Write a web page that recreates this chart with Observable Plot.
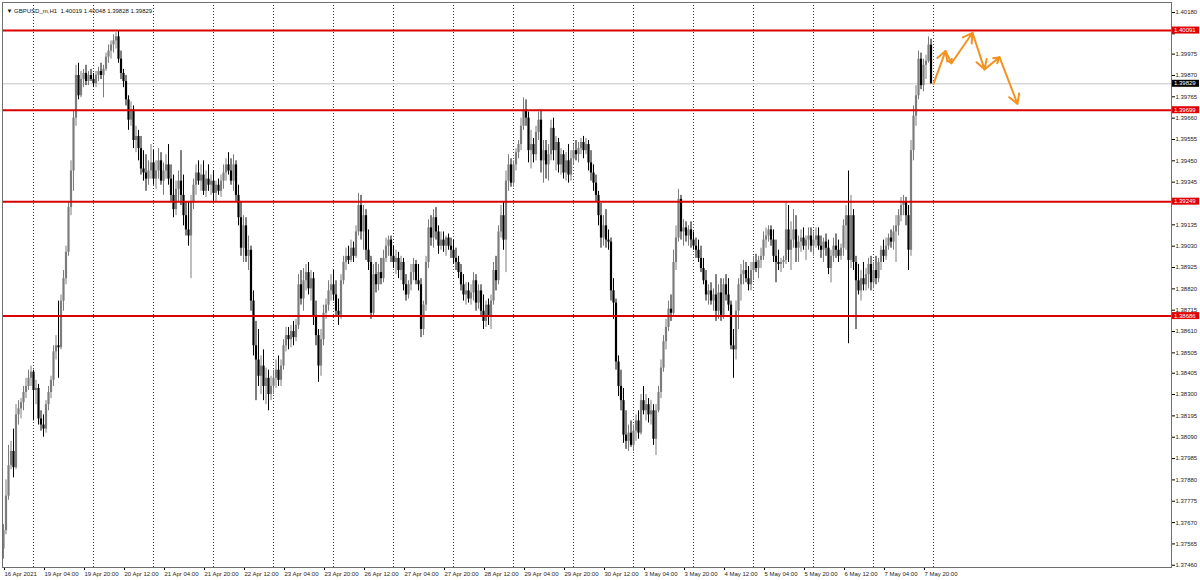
<!DOCTYPE html>
<html><head><meta charset="utf-8">
<script src="https://cdn.jsdelivr.net/npm/d3@7"></script>
<script src="https://cdn.jsdelivr.net/npm/@observablehq/plot@0.6"></script>
<style>
html,body{margin:0;padding:0;background:#fff;}
svg{display:block}
</style></head><body><div id="chart"></div>
<script>
// GBPUSD_m, H1 — bar 0 = 16 Apr 2021 12:00, one bar per hour of trading
const open = [
1.3754,1.3763,1.3780,1.3795,1.3802,1.3794,1.3820,1.3823,1.3826,1.3831,1.3834,1.3838,
1.3841,1.3832,1.3833,1.3818,1.3815,1.3813,1.3825,1.3831,1.3837,1.3851,1.3854,1.3853,1.3876,1.3887,1.3900,1.3922,1.3940,1.3966,1.3987,1.3977,1.3985,1.3988,1.3984,1.3987,
1.3985,1.3983,1.3987,1.3989,1.3987,1.3990,1.3996,1.3999,1.4002,1.4004,1.4006,1.3995,1.3988,1.3984,1.3975,1.3965,1.3970,1.3955,1.3957,1.3951,1.3941,1.3939,1.3936,1.3940,
1.3944,1.3936,1.3940,1.3945,1.3935,1.3940,1.3943,1.3936,1.3928,1.3921,1.3931,1.3935,1.3928,1.3918,1.3911,1.3908,1.3925,1.3933,1.3939,1.3935,1.3938,1.3930,1.3936,1.3933,
1.3935,1.3929,1.3933,1.3930,1.3935,1.3939,1.3943,1.3940,1.3935,1.3943,1.3928,1.3917,1.3902,1.3913,1.3898,1.3901,1.3876,1.3854,1.3847,1.3839,1.3844,1.3834,1.3838,1.3830,
1.3834,1.3838,1.3842,1.3837,1.3844,1.3854,1.3859,1.3857,1.3861,1.3858,1.3864,1.3884,1.3877,1.3886,1.3890,1.3882,1.3887,1.3868,1.3859,1.3844,1.3857,1.3870,1.3874,1.3881,
1.3884,1.3879,1.3871,1.3869,1.3886,1.3895,1.3898,1.3896,1.3902,1.3898,1.3910,1.3923,1.3910,1.3918,1.3901,1.3895,1.3870,1.3889,1.3884,1.3890,1.3887,1.3897,1.3903,1.3906,
1.3898,1.3895,1.3897,1.3891,1.3895,1.3884,1.3879,1.3884,1.3890,1.3894,1.3886,1.3884,1.3862,1.3874,1.3895,1.3912,1.3907,1.3917,1.3910,1.3903,1.3906,1.3903,1.3907,1.3903,
1.3901,1.3897,1.3895,1.3890,1.3884,1.3879,1.3881,1.3877,1.3880,1.3886,1.3875,1.3881,1.3871,1.3866,1.3874,1.3868,1.3876,1.3891,1.3886,1.3910,1.3918,1.3906,1.3935,1.3943,
1.3934,1.3943,1.3949,1.3953,1.3962,1.3970,1.3966,1.3950,1.3953,1.3948,1.3959,1.3965,1.3945,1.3950,1.3943,1.3948,1.3961,1.3950,1.3954,1.3943,1.3948,1.3939,1.3945,1.3938,
1.3946,1.3950,1.3948,1.3951,1.3954,1.3950,1.3953,1.3944,1.3939,1.3934,1.3928,1.3918,1.3907,1.3913,1.3906,1.3905,1.3881,1.3875,1.3846,1.3834,1.3827,1.3810,1.3807,1.3811,
1.3805,1.3812,1.3817,1.3811,1.3827,1.3822,1.3825,1.3820,1.3822,1.3808,1.3822,1.3831,1.3843,1.3856,1.3863,1.3872,1.3870,1.3895,1.3907,1.3926,1.3910,1.3912,1.3908,1.3911,
1.3906,1.3903,1.3901,1.3897,1.3892,1.3886,1.3879,1.3881,1.3876,1.3879,1.3871,1.3880,1.3869,1.3884,1.3879,1.3874,1.3854,1.3852,1.3871,1.3884,1.3889,1.3891,1.3887,1.3884,
1.3891,1.3895,1.3892,1.3896,1.3898,1.3906,1.3908,1.3911,1.3906,1.3898,1.3895,1.3894,1.3895,1.3896,1.3911,1.3901,1.3906,1.3911,1.3902,1.3905,1.3907,1.3903,1.3906,1.3908,
1.3903,1.3906,1.3908,1.3903,1.3901,1.3905,1.3902,1.3892,1.3898,1.3903,1.3901,1.3898,1.3902,1.3913,1.3918,1.3896,1.3918,1.3895,1.3886,1.3881,1.3887,1.3884,1.3889,1.3894,
1.3885,1.3891,1.3887,1.3895,1.3901,1.3898,1.3903,1.3907,1.3905,1.3910,1.3913,1.3918,1.3923,1.3925,1.3918,1.3901,1.3950,1.3967,1.3977,1.3995,1.3982,1.3992,1.3994,1.40019
];
const high = [
1.3766,1.3788,1.3805,1.3807,1.3813,1.3825,1.3827,1.3828,1.3834,1.3838,1.3842,1.3844,
1.3842,1.3837,1.3835,1.3822,1.3820,1.3827,1.3834,1.3839,1.3854,1.3859,1.3876,1.3879,1.3891,1.3903,1.3925,1.3945,1.3970,1.3992,1.3993,1.3989,1.3990,1.3992,1.3989,1.3990,
1.3988,1.3989,1.3991,1.3993,1.3992,1.3998,1.4002,1.4004,1.4007,1.4008,1.4009,1.3999,1.3990,1.3987,1.3977,1.3974,1.3972,1.3962,1.3960,1.3957,1.3950,1.3948,1.3945,1.3953,
1.3950,1.3945,1.3951,1.3949,1.3944,1.3948,1.3953,1.3943,1.3938,1.3935,1.3940,1.3950,1.3938,1.3925,1.3925,1.3928,1.3936,1.3943,1.3945,1.3943,1.3945,1.3940,1.3943,1.3938,
1.3940,1.3935,1.3936,1.3938,1.3943,1.3946,1.3949,1.3946,1.3948,1.3945,1.3933,1.3925,1.3918,1.3917,1.3908,1.3903,1.3881,1.3866,1.3862,1.3849,1.3852,1.3843,1.3842,1.3839,
1.3842,1.3847,1.3849,1.3847,1.3857,1.3863,1.3863,1.3864,1.3866,1.3867,1.3889,1.3891,1.3892,1.3894,1.3895,1.3891,1.3890,1.3876,1.3862,1.3862,1.3874,1.3877,1.3886,1.3889,
1.3891,1.3886,1.3877,1.3889,1.3898,1.3902,1.3903,1.3906,1.3905,1.3913,1.3929,1.3928,1.3923,1.3921,1.3911,1.3898,1.3894,1.3895,1.3894,1.3897,1.3901,1.3907,1.3908,1.3908,
1.3903,1.3901,1.3900,1.3898,1.3897,1.3889,1.3886,1.3894,1.3897,1.3896,1.3894,1.3887,1.3876,1.3898,1.3916,1.3918,1.3921,1.3922,1.3913,1.3910,1.3910,1.3908,1.3909,1.3907,
1.3906,1.3902,1.3898,1.3894,1.3889,1.3885,1.3885,1.3884,1.3890,1.3889,1.3884,1.3884,1.3879,1.3876,1.3877,1.3879,1.3895,1.3898,1.3913,1.3923,1.3925,1.3940,1.3948,1.3946,
1.3945,1.3951,1.3955,1.3966,1.3976,1.3975,1.3969,1.3960,1.3956,1.3962,1.3969,1.3970,1.3955,1.3955,1.3953,1.3965,1.3966,1.3957,1.3956,1.3951,1.3950,1.3949,1.3953,1.3950,
1.3953,1.3955,1.3954,1.3956,1.3957,1.3956,1.3955,1.3950,1.3943,1.3938,1.3930,1.3924,1.3918,1.3921,1.3911,1.3907,1.3887,1.3877,1.3849,1.3842,1.3833,1.3822,1.3815,1.3817,
1.3815,1.3820,1.3822,1.3830,1.3834,1.3830,1.3828,1.3827,1.3825,1.3825,1.3834,1.3847,1.3859,1.3867,1.3876,1.3879,1.3901,1.3913,1.3931,1.3928,1.3916,1.3915,1.3913,1.3915,
1.3910,1.3907,1.3906,1.3903,1.3897,1.3891,1.3884,1.3885,1.3882,1.3889,1.3884,1.3887,1.3887,1.3889,1.3887,1.3876,1.3862,1.3876,1.3887,1.3894,1.3896,1.3895,1.3893,1.3895,
1.3898,1.3899,1.3898,1.3902,1.3910,1.3912,1.3913,1.3913,1.3911,1.3906,1.3901,1.3897,1.3898,1.3925,1.3923,1.3915,1.3921,1.3918,1.3908,1.3911,1.3912,1.3908,1.3912,1.3912,
1.3910,1.3912,1.3912,1.3908,1.3907,1.3909,1.3906,1.3901,1.3907,1.3909,1.3906,1.3904,1.3916,1.3923,1.3940,1.3928,1.3921,1.3898,1.3894,1.3891,1.3895,1.3892,1.3897,1.3898,
1.3895,1.3898,1.3897,1.3903,1.3906,1.3907,1.3909,1.3911,1.3913,1.3918,1.3921,1.3927,1.3928,1.3927,1.3923,1.3955,1.3972,1.3982,1.3999,1.3998,1.3995,1.3997,1.4006,1.40048
];
const low = [
1.3749,1.3761,1.3778,1.3793,1.3789,1.3793,1.3815,1.3818,1.3822,1.3828,1.3832,1.3834,
1.3817,1.3825,1.3815,1.3812,1.3809,1.3811,1.3822,1.3828,1.3834,1.3847,1.3838,1.3852,1.3871,1.3884,1.3898,1.3918,1.3930,1.3962,1.3975,1.3976,1.3981,1.3982,1.3982,1.3984,
1.3981,1.3981,1.3984,1.3985,1.3976,1.3989,1.3993,1.3995,1.3998,1.4000,1.3993,1.3985,1.3981,1.3972,1.3960,1.3962,1.3951,1.3949,1.3945,1.3938,1.3935,1.3930,1.3933,1.3936,
1.3933,1.3931,1.3936,1.3933,1.3928,1.3936,1.3933,1.3925,1.3917,1.3918,1.3925,1.3923,1.3913,1.3908,1.3903,1.3887,1.3921,1.3928,1.3933,1.3930,1.3928,1.3927,1.3930,1.3928,
1.3925,1.3925,1.3928,1.3927,1.3931,1.3935,1.3938,1.3933,1.3930,1.3925,1.3913,1.3898,1.3895,1.3895,1.3891,1.3871,1.3849,1.3827,1.3834,1.3830,1.3827,1.3825,1.3822,1.3827,
1.3830,1.3833,1.3834,1.3834,1.3842,1.3851,1.3852,1.3853,1.3854,1.3856,1.3862,1.3874,1.3871,1.3881,1.3879,1.3876,1.3864,1.3854,1.3836,1.3839,1.3854,1.3867,1.3871,1.3876,
1.3876,1.3868,1.3864,1.3867,1.3884,1.3891,1.3894,1.3895,1.3895,1.3897,1.3908,1.3906,1.3901,1.3896,1.3891,1.3867,1.3868,1.3880,1.3881,1.3884,1.3885,1.3895,1.3898,1.3895,
1.3892,1.3889,1.3887,1.3886,1.3881,1.3876,1.3877,1.3881,1.3886,1.3884,1.3881,1.3858,1.3859,1.3871,1.3892,1.3903,1.3902,1.3906,1.3899,1.3901,1.3900,1.3898,1.3901,1.3897,
1.3894,1.3891,1.3887,1.3881,1.3876,1.3874,1.3875,1.3874,1.3876,1.3871,1.3872,1.3868,1.3862,1.3863,1.3864,1.3862,1.3874,1.3881,1.3884,1.3907,1.3901,1.3890,1.3930,1.3932,
1.3932,1.3940,1.3946,1.3950,1.3960,1.3962,1.3944,1.3941,1.3944,1.3945,1.3955,1.3939,1.3934,1.3936,1.3935,1.3945,1.3945,1.3940,1.3939,1.3938,1.3936,1.3935,1.3934,1.3935,
1.3943,1.3945,1.3944,1.3948,1.3946,1.3948,1.3940,1.3935,1.3930,1.3925,1.3913,1.3902,1.3903,1.3902,1.3901,1.3876,1.3867,1.3842,1.3829,1.3822,1.3806,1.3803,1.3802,1.3804,
1.3802,1.3807,1.3808,1.3810,1.3820,1.3817,1.3816,1.3815,1.3805,1.3800,1.3821,1.3828,1.3841,1.3852,1.3861,1.3866,1.3869,1.3891,1.3905,1.3906,1.3903,1.3905,1.3903,1.3902,
1.3901,1.3897,1.3895,1.3890,1.3884,1.3876,1.3874,1.3874,1.3871,1.3866,1.3867,1.3866,1.3867,1.3876,1.3871,1.3852,1.3838,1.3847,1.3862,1.3876,1.3884,1.3885,1.3881,1.3881,
1.3886,1.3890,1.3887,1.3892,1.3896,1.3902,1.3905,1.3903,1.3895,1.3885,1.3891,1.3890,1.3892,1.3894,1.3895,1.3891,1.3902,1.3895,1.3895,1.3900,1.3901,1.3896,1.3901,1.3900,
1.3898,1.3902,1.3901,1.3897,1.3895,1.3898,1.3889,1.3885,1.3895,1.3897,1.3895,1.3896,1.3898,1.3901,1.3855,1.3892,1.3891,1.3862,1.3879,1.3876,1.3881,1.3881,1.3882,1.3881,
1.3882,1.3884,1.3885,1.3891,1.3895,1.3896,1.3901,1.3902,1.3901,1.3895,1.3908,1.3915,1.3918,1.3913,1.3891,1.3898,1.3945,1.3962,1.3975,1.3980,1.3979,1.3985,1.3993,1.39828
];
const close = [
1.3763,1.3780,1.3795,1.3802,1.3794,1.3820,1.3823,1.3826,1.3831,1.3834,1.3838,1.3841,
1.3832,1.3833,1.3818,1.3815,1.3813,1.3825,1.3831,1.3837,1.3851,1.3854,1.3853,1.3876,1.3887,1.3900,1.3922,1.3940,1.3966,1.3987,1.3977,1.3985,1.3988,1.3984,1.3987,1.3985,
1.3983,1.3987,1.3989,1.3987,1.3990,1.3996,1.3999,1.4002,1.4004,1.4006,1.3995,1.3988,1.3984,1.3975,1.3965,1.3970,1.3955,1.3957,1.3951,1.3941,1.3939,1.3936,1.3940,1.3944,
1.3936,1.3940,1.3945,1.3935,1.3940,1.3943,1.3936,1.3928,1.3921,1.3931,1.3935,1.3928,1.3918,1.3911,1.3908,1.3925,1.3933,1.3939,1.3935,1.3938,1.3930,1.3936,1.3933,1.3935,
1.3929,1.3933,1.3930,1.3935,1.3939,1.3943,1.3940,1.3935,1.3943,1.3928,1.3917,1.3902,1.3913,1.3898,1.3901,1.3876,1.3854,1.3847,1.3839,1.3844,1.3834,1.3838,1.3830,1.3834,
1.3838,1.3842,1.3837,1.3844,1.3854,1.3859,1.3857,1.3861,1.3858,1.3864,1.3884,1.3877,1.3886,1.3890,1.3882,1.3887,1.3868,1.3859,1.3844,1.3857,1.3870,1.3874,1.3881,1.3884,
1.3879,1.3871,1.3869,1.3886,1.3895,1.3898,1.3896,1.3902,1.3898,1.3910,1.3923,1.3910,1.3918,1.3901,1.3895,1.3870,1.3889,1.3884,1.3890,1.3887,1.3897,1.3903,1.3906,1.3898,
1.3895,1.3897,1.3891,1.3895,1.3884,1.3879,1.3884,1.3890,1.3894,1.3886,1.3884,1.3862,1.3874,1.3895,1.3912,1.3907,1.3917,1.3910,1.3903,1.3906,1.3903,1.3907,1.3903,1.3901,
1.3897,1.3895,1.3890,1.3884,1.3879,1.3881,1.3877,1.3880,1.3886,1.3875,1.3881,1.3871,1.3866,1.3874,1.3868,1.3876,1.3891,1.3886,1.3910,1.3918,1.3906,1.3935,1.3943,1.3934,
1.3943,1.3949,1.3953,1.3962,1.3970,1.3966,1.3950,1.3953,1.3948,1.3959,1.3965,1.3945,1.3950,1.3943,1.3948,1.3961,1.3950,1.3954,1.3943,1.3948,1.3939,1.3945,1.3938,1.3946,
1.3950,1.3948,1.3951,1.3954,1.3950,1.3953,1.3944,1.3939,1.3934,1.3928,1.3918,1.3907,1.3913,1.3906,1.3905,1.3881,1.3875,1.3846,1.3834,1.3827,1.3810,1.3807,1.3811,1.3805,
1.3812,1.3817,1.3811,1.3827,1.3822,1.3825,1.3820,1.3822,1.3808,1.3822,1.3831,1.3843,1.3856,1.3863,1.3872,1.3870,1.3895,1.3907,1.3926,1.3910,1.3912,1.3908,1.3911,1.3906,
1.3903,1.3901,1.3897,1.3892,1.3886,1.3879,1.3881,1.3876,1.3879,1.3871,1.3880,1.3869,1.3884,1.3879,1.3874,1.3854,1.3852,1.3871,1.3884,1.3889,1.3891,1.3887,1.3884,1.3891,
1.3895,1.3892,1.3896,1.3898,1.3906,1.3908,1.3911,1.3906,1.3898,1.3895,1.3894,1.3895,1.3896,1.3911,1.3901,1.3906,1.3911,1.3902,1.3905,1.3907,1.3903,1.3906,1.3908,1.3903,
1.3906,1.3908,1.3903,1.3901,1.3905,1.3902,1.3892,1.3898,1.3903,1.3901,1.3898,1.3902,1.3913,1.3918,1.3896,1.3918,1.3895,1.3886,1.3881,1.3887,1.3884,1.3889,1.3894,1.3885,
1.3891,1.3887,1.3895,1.3901,1.3898,1.3903,1.3907,1.3905,1.3910,1.3913,1.3918,1.3923,1.3925,1.3918,1.3901,1.3950,1.3967,1.3977,1.3995,1.3982,1.3992,1.3994,1.4002,1.39829
];

// time axis: labels every 16 bars, day boundaries (00:00) every 24 bars
const timeLabels = ["16 Apr 2021","19 Apr 04:00","19 Apr 20:00","20 Apr 12:00","21 Apr 04:00","21 Apr 20:00",
  "22 Apr 12:00","23 Apr 04:00","23 Apr 20:00","26 Apr 12:00","27 Apr 04:00","27 Apr 20:00","28 Apr 12:00",
  "29 Apr 04:00","29 Apr 20:00","30 Apr 12:00","3 May 04:00","3 May 20:00","4 May 12:00","5 May 04:00",
  "5 May 20:00","6 May 12:00","7 May 04:00","7 May 20:00"];
const timeLabelBars = [0,16,32,48,64,80,96,112,128,144,160,176,192,208,224,240,256,272,288,304,320,336,352,368];
const dayStartBars = [12,36,60,84,108,132,156,180,204,228,252,276,300,324,348,372];

// price axis (1.40075 and 1.39240 sit under the red price tags)
const priceTicks = [1.40180,1.40075,1.39975,1.39870,1.39765,1.39660,1.39555,1.39450,1.39345,1.39240,1.39135,
  1.39030,1.38925,1.38820,1.38715,1.38610,1.38505,1.38405,1.38300,1.38195,1.38090,1.37985,1.37880,1.37775,
  1.37670,1.37565,1.37460];
const levels = [1.40091, 1.39699, 1.39249, 1.38686];

// hand-drawn forecast path (bar position, price)
const forecastBars = [372, 376.8, 379.2, 387.6, 392.4, 398.4, 405.6];
const forecastPrices = [1.39829, 1.3999, 1.3993, 1.4008, 1.3990, 1.3996, 1.3973];

const header = "\u25BC GBPUSD_m,H1  1.40019 1.40048 1.39828 1.39829";

const bars = open.map((o, i) => ({i, open: o, high: high[i], low: low[i], close: close[i]}));
const candleColor = d => d.close < d.open ? "#000000" : "#7c7c7c";
const segments = forecastBars.slice(1).map((b, k) => ({x1: forecastBars[k], y1: forecastPrices[k], x2: b, y2: forecastPrices[k + 1]}));
const labelAt = new Map(timeLabelBars.map((b, k) => [b, timeLabels[k]]));
const lastClose = close[close.length - 1];
const tagged = [...levels, lastClose];
const FONT = "'Liberation Sans', Arial, sans-serif";

const plot = Plot.plot({
  width: 1200, height: 580,
  marginLeft: 2, marginRight: 29, marginTop: 2, marginBottom: 13,
  style: {background: "#ffffff", fontFamily: FONT, overflow: "visible"},
  x: {type: "linear", domain: [-0.4, 467.2], axis: null},
  y: {domain: [1.37449, 1.40229], axis: null},
  color: {type: "identity"},
  marks: [
    Plot.ruleX(dayStartBars, {stroke: "#3a3a3a", strokeDasharray: "1,2", strokeWidth: 1}),
    Plot.ruleY([lastClose], {stroke: "#c4c4c4", strokeWidth: 1}),
    Plot.ruleX(bars, {x: "i", y1: "low", y2: "high", stroke: candleColor, strokeWidth: 1}),
    Plot.ruleX(bars, {x: "i", y1: "open", y2: "close", stroke: candleColor, strokeWidth: 2.2}),
    Plot.ruleY(levels, {stroke: "#d90000", strokeWidth: 2}),
    Plot.arrow(segments, {x1: "x1", y1: "y1", x2: "x2", y2: "y2", stroke: "#f39221", strokeWidth: 2, headLength: 8}),
    Plot.axisY(priceTicks, {anchor: "right", tickSize: 3, tickPadding: 1, fontSize: 6, fill: "#222",
      tickFormat: d => tagged.some(t => Math.abs(t - d) < 0.0002) ? "" : d.toFixed(5)}),
    Plot.axisX(timeLabelBars, {anchor: "bottom", tickSize: 3, tickPadding: 1, tickFormat: d => labelAt.get(d), textAnchor: "start", dx: 1, fontSize: 6, fill: "#222"}),
    Plot.frame({stroke: "#6f6f6f"}),
    Plot.text([header], {frameAnchor: "top-left", dx: 4, dy: 6, text: d => d, textAnchor: "start", fontSize: 6, fill: "#111"})
  ]
});

// price tags on the right axis, placed with the plot's own y scale
const ys = plot.scale("y"), xs = plot.scale("x");
const xEdge = xs.range[1];
const tags = [...levels.map(v => ({v, fill: "#e00000"})), {v: lastClose, fill: "#000000"}];
const g = d3.select(plot).append("g").attr("font-family", FONT).attr("font-size", 6).attr("text-anchor", "start");
for (const t of tags) {
  const y = ys.apply(t.v);
  g.append("rect").attr("x", xEdge + 1).attr("y", y - 3.5).attr("width", 27).attr("height", 7).attr("fill", t.fill);
  g.append("text").attr("x", xEdge + 3).attr("y", y).attr("dy", "0.35em").attr("text-anchor", "start").attr("fill", "#fff").text(t.v.toFixed(5));
}
document.getElementById("chart").appendChild(plot);
</script>
</body></html>
